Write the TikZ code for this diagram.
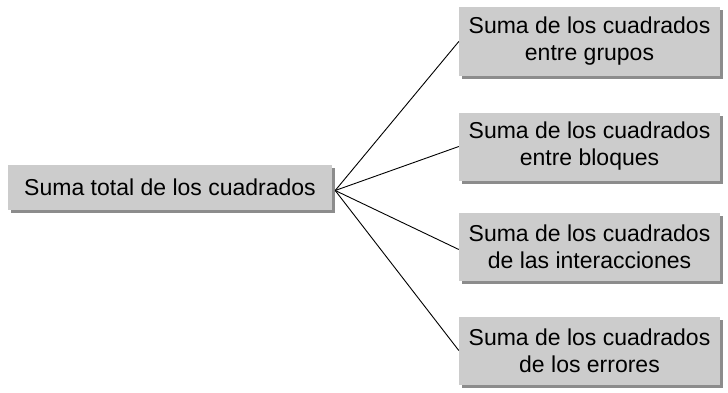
\documentclass[tikz,border=0pt]{standalone}
\usepackage{fontspec}
\setmainfont{Liberation Sans}
\usetikzlibrary{shadows}
\definecolor{boxgray}{RGB}{204,204,204}
\definecolor{shadowgray}{RGB}{140,140,140}
\begin{document}
\begin{tikzpicture}[x=1pt,y=1pt,
  box/.style={fill=boxgray, draw=none, inner sep=0pt, align=center,
    font=\fontsize{23}{27}\selectfont,
    drop shadow={shadow xshift=3pt, shadow yshift=-3pt, fill=shadowgray, opacity=1}},
  lbox/.style={box, minimum width=324pt, minimum height=45pt},
  rbox/.style={box, minimum width=261pt, minimum height=68pt},
  conn/.style={draw=black, line width=0.9pt}]
\useasboundingbox (0,0) rectangle (728,392);
\node[lbox] (L) at (170,204.5) {Suma total de los cuadrados};
\node[rbox] (R1) at (589.5,350.5) {Suma de los cuadrados\\entre grupos};
\node[rbox] (R2) at (589.5,245.5) {Suma de los cuadrados\\entre bloques};
\node[rbox] (R3) at (589.5,145.5) {Suma de los cuadrados\\de las interacciones};
\node[rbox] (R4) at (589.5,41.5) {Suma de los cuadrados\\de los errores};
\coordinate (hub) at ([shift={(3pt,-3pt)}]L.east);
\draw[conn] (hub) -- (R1.west);
\draw[conn] (hub) -- (R2.west);
\draw[conn] (hub) -- ([yshift=-3pt]R3.west);
\draw[conn] (hub) -- (R4.west);
\end{tikzpicture}
\end{document}
